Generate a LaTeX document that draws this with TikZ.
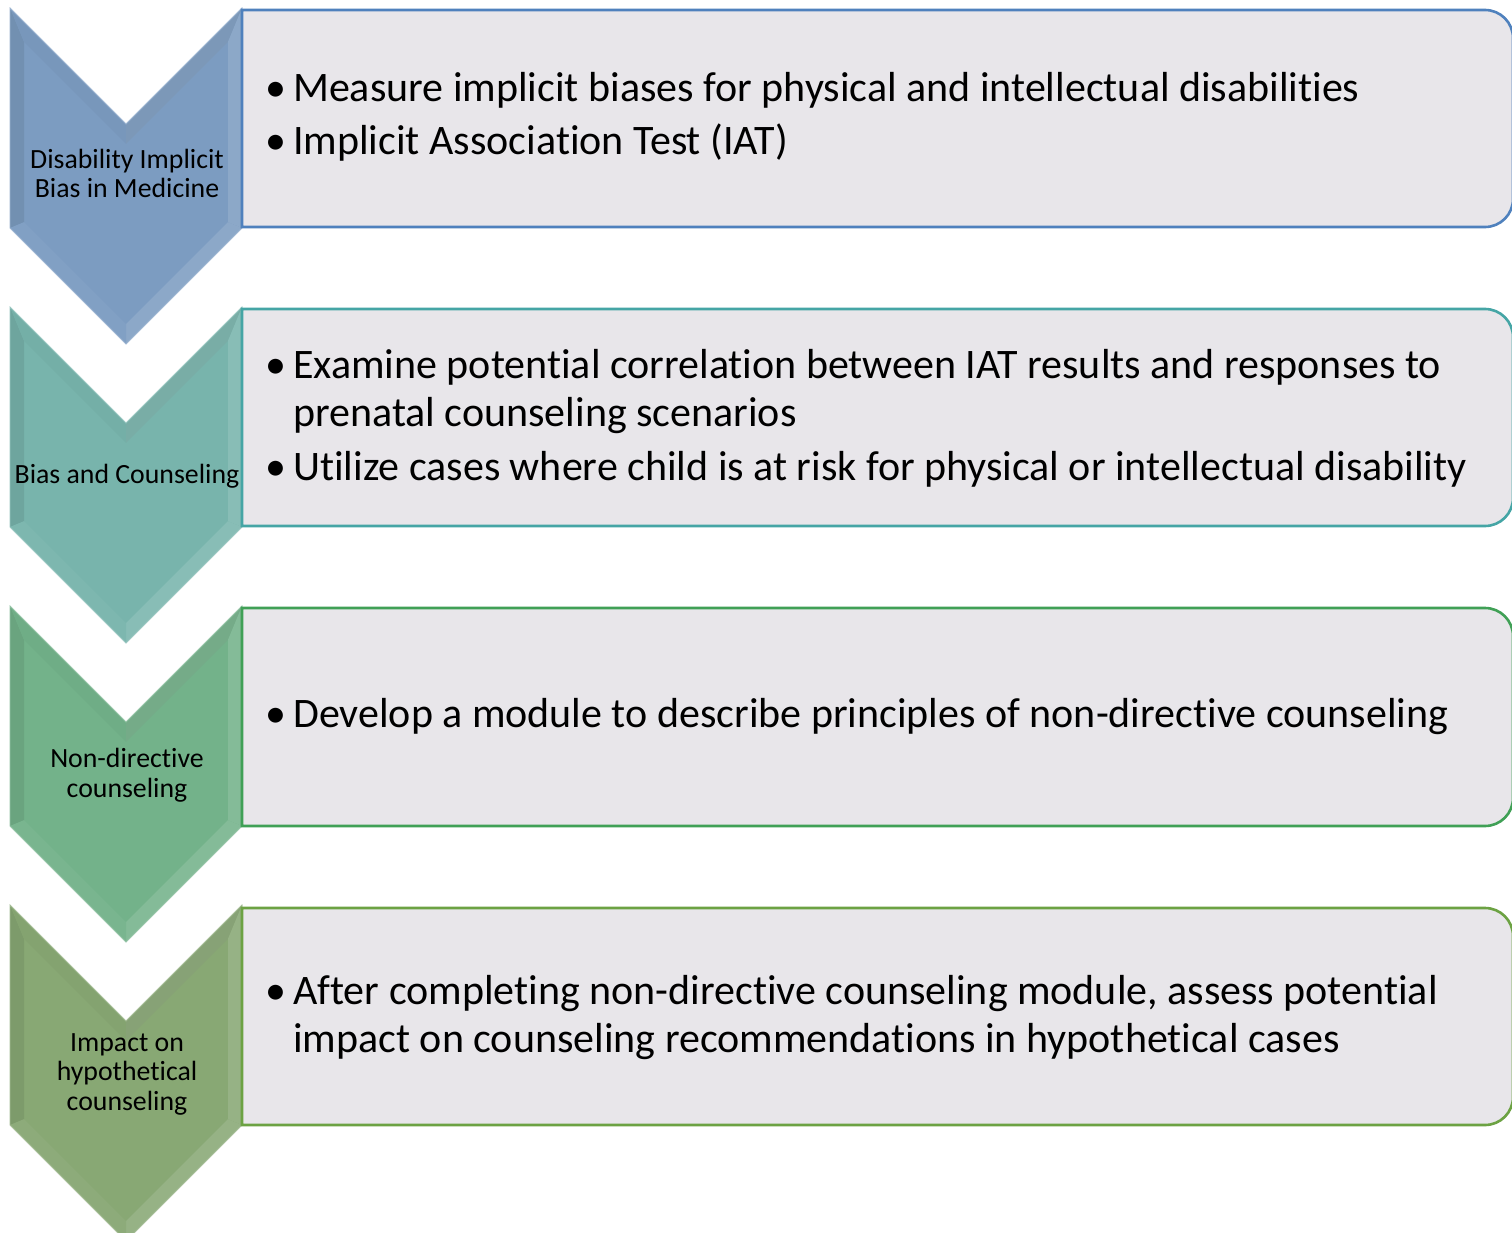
\documentclass[tikz,border=0pt]{standalone}
\usepackage{fontspec}
\setmainfont{Carlito}[Ligatures=NoCommon]
\usetikzlibrary{calc}
\definecolor{boxfill}{HTML}{E8E6EA}
\definecolor{chA}{HTML}{7C9CC1}
\definecolor{chB}{HTML}{78B4AC}
\definecolor{chC}{HTML}{73B28A}
\definecolor{chD}{HTML}{88A874}
\definecolor{bdA}{HTML}{4F81BD}
\definecolor{bdB}{HTML}{45A5A5}
\definecolor{bdC}{HTML}{40A056}
\definecolor{bdD}{HTML}{6CA243}
\newcommand{\mychevron}[3]{%
  % #1 name, #2 top y (px, downward), #3 base colour
  \begin{scope}[shift={(0,-#2)}]
    \coordinate (#1-o1) at (10,0);
    \coordinate (#1-o2) at (126,-116);
    \coordinate (#1-o3) at (242,0);
    \coordinate (#1-o4) at (242,-220);
    \coordinate (#1-o5) at (126,-336);
    \coordinate (#1-o6) at (10,-220);
    \coordinate (#1-i1) at (24,-33.8);
    \coordinate (#1-i2) at (126,-135.8);
    \coordinate (#1-i3) at (228,-33.8);
    \coordinate (#1-i4) at (228,-214.2);
    \coordinate (#1-i5) at (126,-316.2);
    \coordinate (#1-i6) at (24,-214.2);
    \fill[#3] (#1-o1)--(#1-o2)--(#1-o3)--(#1-o4)--(#1-o5)--(#1-o6)--cycle;
    \fill[#3!92!black] (#1-o1)--(#1-i1)--(#1-i6)--(#1-o6)--cycle;
    \fill[#3!97!black] (#1-o1)--(#1-o2)--(#1-i2)--(#1-i1)--cycle;
    \fill[#3!86!gray] (#1-o2)--(#1-o3)--(#1-i3)--(#1-i2)--cycle;
    \fill[#3!88!white] (#1-o3)--(#1-o4)--(#1-i4)--(#1-i3)--cycle;
    \fill[#3!88!white] (#1-o4)--(#1-o5)--(#1-i5)--(#1-i4)--cycle;
    \fill[#3!96!white] (#1-o5)--(#1-o6)--(#1-i6)--(#1-i5)--cycle;
    \draw[#3!75!white, line width=0.8pt, line join=miter] (#1-o1)--(#1-o2)--(#1-o3)--(#1-o4)--(#1-o5)--(#1-o6)--cycle;
  \end{scope}}
\newcommand{\mybox}[4]{%
  % #1 name, #2 top, #3 bottom, #4 border colour
  \draw[fill=boxfill, draw=#4, line width=2.6pt]
    (242,-#2) -- (1485,-#2) arc[start angle=90,end angle=0,radius=28]
    -- (1513,-#3+28) arc[start angle=0,end angle=-90,radius=28]
    -- (242,-#3) -- cycle;
  \coordinate (#1) at (242,-#2);}
\tikzset{
  chlabel/.style={font=\fontsize{27.8}{29.5}\selectfont, align=center, anchor=base, inner sep=0pt},
  bullettext/.style={font=\fontsize{42}{48}\selectfont, align=left, anchor=base west, inner sep=0pt},
}
\newcommand{\bul}{\llap{\textbullet\hspace{7pt}}}
\begin{document}
\begin{tikzpicture}[x=1pt,y=1pt]
\useasboundingbox (0,0) rectangle (1512,-1233);
\fill[white] (0,0) rectangle (1512,-1233);
% chevrons
\mychevron{c1}{8}{chA}
\mychevron{c2}{307}{chB}
\mychevron{c3}{606}{chC}
\mychevron{c4}{905}{chD}
% boxes
\mybox{b1}{10}{227}{bdA}
\mybox{b2}{309}{526}{bdB}
\mybox{b3}{608}{826}{bdC}
\mybox{b4}{908}{1125}{bdD}
% chevron labels (base anchor = last line baseline)
\node[chlabel] (l1) at (127,-198) {Disability Implicit\\Bias in Medicine};
\node[chlabel] (l2) at (127,-483) {Bias and Counseling};
\node[chlabel] (l3) at (127,-797) {Non-directive\\counseling};
\node[chlabel] (l4) at (127,-1110) {Impact on\\hypothetical\\counseling};
% box texts
\node[bullettext] (t1a) at (293,-102) {\bul Measure implicit biases for physical and intellectual disabilities};
\node[bullettext] (t1b) at (293,-155) {\bul Implicit Association Test (IAT)};
\node[bullettext] (t2a) at (293,-426) {\bul Examine potential correlation between IAT results and responses to\\prenatal counseling scenarios};
\node[bullettext] (t2b) at (293,-480) {\bul Utilize cases where child is at risk for physical or intellectual disability};
\node[bullettext] (t3a) at (293,-727) {\bul Develop a module to describe principles of non-directive counseling};
\node[bullettext] (t4a) at (293,-1052) {\bul After completing non-directive counseling module, assess potential\\impact on counseling recommendations in hypothetical cases};
\end{tikzpicture}
\end{document}
